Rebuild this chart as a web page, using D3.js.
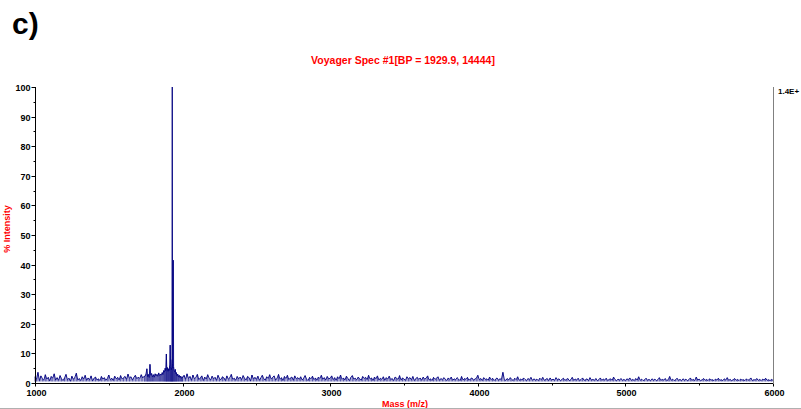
<!DOCTYPE html>
<html><head><meta charset="utf-8">
<script src="https://cdn.jsdelivr.net/npm/d3@7"></script>
<style>body{margin:0;background:#fff;} svg{display:block;font-family:"Liberation Sans",Arial,sans-serif;}</style>
</head><body>
<svg id="c" width="801" height="409"></svg>
<script>
const panelLabel = "c)";
const title = "Voyager Spec #1[BP = 1929.9, 14444]";
const xLabel = "Mass (m/z)";
const yLabel = "%  Intensity";
const scaleNote = "1.4E+";
const xTicks = [1000, 2000, 3000, 4000, 5000, 6000];
const yTicks = [0, 10, 20, 30, 40, 50, 60, 70, 80, 90, 100];

// baseline noise 1000..1740 (step 10)
const noiseLowStart = 1000, noiseStep = 10;
const noiseLow = [2.1,1.2,3.6,0.8,2.4,1.5,0.9,2.8,1.3,1.9, 0.7,2.2,1.6,3.1,1.0,1.8,0.9,2.5,1.4,0.8,
 1.7,2.9,1.1,1.6,0.6,2.3,1.2,1.9,3.3,1.0, 1.5,0.8,2.1,1.3,2.6,0.9,1.7,1.1,2.4,0.7,
 1.6,2.0,1.0,1.4,0.8,2.2,1.3,1.8,0.9,1.5, 2.7,1.1,1.6,0.8,2.3,1.4,1.9,1.0,2.5,1.3,
 1.8,2.2,1.2,3.0,1.6,2.1,1.0,1.9,2.6,1.4, 2.0,1.5,2.8,1.7,2.3];
// cluster around the base peak
const peakMass = [1745,1752,1758,1763,1768,1774,1779,1784,1790,1796,1802,1808,1814,1820,1826,1832,1838,1844,1850,1856,1862,1867,1872,1877,1882,1886,1890,1893,1897,1901,1905,1909,1913,1916,1919,1923,1926,1928,1929.9,1932,1934,1937,1939,1942,1946,1950,1954,1958,1962,1967,1972,1977,1982,1987,1992,1997];
const peakInt = [2.2,3.0,4.8,2.1,2.9,1.8,6.3,2.6,3.2,2.0,2.8,1.9,3.1,2.4,2.9,2.2,3.4,2.5,3.0,2.6,3.5,2.8,4.2,3.6,5.0,4.1,9.8,4.5,5.2,3.9,4.8,4.2,6.0,12.8,5.5,4.4,5.1,8.0,100,6.5,5.0,41.5,5.5,4.2,3.8,4.6,3.1,3.5,2.4,3.0,2.0,2.6,1.8,2.3,1.5,2.1];
// baseline noise 2000..6000 (step 10)
const noiseHighStart = 2000;
const noiseHigh = [
1.8,2.6,1.2,3.1,1.5,2.2,0.9,2.7,1.4,1.9,2.9,1.1,1.7,2.4,0.8,2.0,1.3,2.8,1.6,1.0,
2.3,1.4,1.9,0.9,2.6,1.5,1.1,2.1,1.7,0.8,2.4,1.3,1.8,2.9,1.2,1.6,0.9,2.2,1.4,2.0,
1.1,2.5,1.6,1.0,2.2,1.8,0.7,2.7,1.3,1.9,1.2,2.3,0.9,1.7,2.6,1.4,1.0,2.1,1.5,2.8,
1.3,1.9,2.4,1.0,1.6,2.9,1.2,1.8,0.8,2.2,1.5,2.6,1.1,1.7,2.0,0.9,2.4,1.4,1.8,1.2,
2.1,1.0,1.6,2.5,1.3,0.8,1.9,1.4,2.3,1.1,1.7,0.9,2.0,1.5,2.6,1.2,1.8,1.0,2.2,1.4,
1.6,2.4,1.1,1.8,0.9,2.1,1.4,2.7,1.2,1.7,1.0,2.3,1.5,0.8,1.9,2.5,1.3,1.6,1.1,2.0,
1.4,0.9,2.2,1.5,1.9,1.1,2.6,1.3,1.7,0.8,2.0,1.4,2.4,1.0,1.6,1.2,2.1,0.9,1.8,1.3,
2.3,1.1,1.5,0.8,2.0,1.6,1.2,2.5,1.0,1.7,1.3,0.9,2.1,1.4,1.8,1.1,2.2,0.8,1.5,1.9,
1.2,1.7,0.9,2.0,1.3,1.6,2.4,1.0,1.4,0.8,1.9,1.2,1.6,2.1,0.9,1.5,1.1,1.8,1.3,0.8,
1.7,1.2,2.0,0.9,1.4,1.1,1.8,1.3,0.8,2.2,1.0,1.5,1.2,1.9,0.9,1.4,1.7,1.0,1.3,1.6,
2.6,1.1,1.5,0.8,1.8,1.2,1.4,0.9,2.0,1.1,1.6,0.8,1.3,1.7,1.0,1.4,1.2,3.6,1.1,0.9,
1.5,1.0,1.8,1.2,0.8,1.6,1.1,2.1,0.9,1.3,1.0,1.7,1.2,0.8,1.5,1.1,1.9,0.9,1.4,1.0,
1.3,0.8,1.6,1.1,1.9,0.9,1.2,1.5,0.8,1.7,1.0,1.3,0.9,1.8,1.1,1.4,0.8,1.2,1.6,0.9,
1.2,1.5,0.8,1.1,1.9,0.9,1.3,1.0,1.6,0.8,1.2,1.7,0.9,1.1,1.4,0.8,1.8,1.0,1.2,0.9,
1.5,0.8,1.1,1.7,0.9,1.3,1.0,1.6,0.8,1.2,1.4,0.9,2.0,1.1,0.8,1.3,1.0,1.5,0.9,1.2,
0.8,1.4,1.1,1.7,0.9,1.2,0.8,1.5,1.0,2.1,0.9,1.3,0.8,1.1,1.6,0.9,1.2,0.8,1.4,1.0,
1.3,0.8,1.1,1.8,0.9,1.2,1.0,1.5,0.8,1.1,2.2,0.9,1.3,0.8,1.1,1.6,0.9,1.2,0.8,1.4,
1.0,1.3,0.8,1.1,1.7,0.9,1.2,0.8,2.0,1.0,1.3,0.8,1.1,1.5,0.9,1.2,0.8,1.4,1.0,1.1,
0.8,1.3,1.0,1.6,0.9,1.1,0.8,1.4,1.0,1.8,0.9,1.2,0.8,1.1,1.5,0.9,1.2,0.8,1.3,1.0,
1.1,0.8,1.4,0.9,1.2,1.7,0.8,1.1,1.0,1.5,0.9,1.2,0.8,1.3,1.0,1.6,0.9,1.1,0.8,1.2,
0.9];
const noiseFloor = 0.5;

const pts = [];
noiseLow.forEach((v,i)=>pts.push([noiseLowStart+i*noiseStep, v]));
peakMass.forEach((m,i)=>pts.push([m, peakInt[i]]));
noiseHigh.forEach((v,i)=>pts.push([noiseHighStart+i*noiseStep, v]));

const svg = d3.select("#c");
const x = d3.scaleLinear().domain([1000, 6000]).range([35, 773]);
const y = d3.scaleLinear().domain([0, 100]).range([383, 87]);

svg.append("text").attr("x", 12).attr("y", 34).attr("font-size", 30).attr("font-weight", "bold")
  .attr("fill", "#000").text(panelLabel);
svg.append("text").attr("x", 403).attr("y", 64).attr("text-anchor", "middle").attr("font-size", 10.5)
  .attr("font-weight", "bold").attr("fill", "#ff0000").text(title);

// data: sticks (dense band) + connecting line
svg.append("g").selectAll("line").data(pts.filter(d=>d[1] < 20)).join("line")
  .attr("x1", d=>x(d[0])).attr("x2", d=>x(d[0]))
  .attr("y1", d=>y(Math.min(noiseFloor, d[1]))).attr("y2", d=>y(d[1]))
  .attr("stroke", "#000080").attr("stroke-width", 0.9).attr("stroke-opacity", 0.75);
const line = d3.line().x(d=>x(d[0])).y(d=>y(d[1]));
svg.append("path").datum(pts).attr("d", line).attr("fill", "none")
  .attr("stroke", "#000080").attr("stroke-width", 0.9);

// right gray border
svg.append("line").attr("x1", 773.5).attr("x2", 773.5).attr("y1", 87).attr("y2", 383)
  .attr("stroke", "#808080").attr("stroke-width", 1);
svg.append("text").attr("x", 778).attr("y", 94).attr("font-size", 8).attr("font-weight", "bold")
  .attr("fill", "#000").text(scaleNote);

// Y axis
const yAxis = svg.append("g").attr("transform", "translate(35.5,0)");
yAxis.append("line").attr("x1",0).attr("x2",0).attr("y1",y(100)).attr("y2",y(0)).attr("stroke","#000");
yAxis.selectAll(".minor").data(d3.range(5,100,10)).join("line").attr("x1",-2).attr("x2",0)
  .attr("y1",d=>Math.round(y(d))+0.5).attr("y2",d=>Math.round(y(d))+0.5).attr("stroke","#000");
yAxis.selectAll(".major").data(yTicks).join("g").each(function(d){
  const g = d3.select(this);
  const yy = Math.round(y(d))+0.5;
  g.append("line").attr("x1",-4).attr("x2",0).attr("y1",yy).attr("y2",yy).attr("stroke","#000");
  g.append("text").attr("x",-5).attr("y",yy+3).attr("text-anchor","end").attr("font-size",9)
    .attr("font-weight","bold").attr("fill","#000").text(d);
});

// X axis
const xAxis = svg.append("g").attr("transform", "translate(0,383.5)");
xAxis.append("line").attr("x1",x(1000)).attr("x2",x(6000)).attr("y1",0).attr("y2",0).attr("stroke","#000");
xAxis.selectAll(".minor").data(d3.range(1500,6000,1000)).join("line")
  .attr("x1",d=>Math.round(x(d))+0.5).attr("x2",d=>Math.round(x(d))+0.5).attr("y1",0).attr("y2",2).attr("stroke","#000");
xAxis.selectAll(".major").data(xTicks).join("g").each(function(d){
  const g = d3.select(this);
  const xx = Math.round(x(d))+0.5;
  g.append("line").attr("x1",xx).attr("x2",xx).attr("y1",0).attr("y2",3).attr("stroke","#000");
  g.append("text").attr("x",xx+1).attr("y",12).attr("text-anchor","middle").attr("font-size",9)
    .attr("font-weight","bold").attr("fill","#000").text(d);
});

svg.append("text").attr("x", 405).attr("y", 407).attr("text-anchor", "middle").attr("font-size", 9)
  .attr("font-weight", "bold").attr("fill", "#ff0000").text(xLabel);
svg.append("text").attr("transform", "translate(10,229) rotate(-90)").attr("text-anchor", "middle")
  .attr("font-size", 9).attr("font-weight", "bold").attr("fill", "#ff0000").text(yLabel);

// bottom gray rule
svg.append("line").attr("x1",0).attr("x2",801).attr("y1",408.5).attr("y2",408.5)
  .attr("stroke","#b0b0b0").attr("stroke-width",1);
</script>
</body></html>
